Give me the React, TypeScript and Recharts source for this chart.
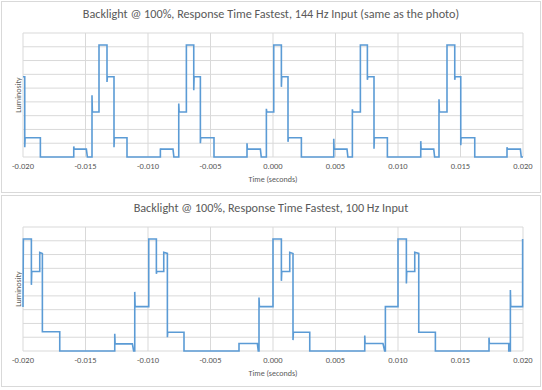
import React from "react";
import { LineChart, Line, XAxis, YAxis, CartesianGrid } from "recharts";

// time ticks shared by both charts
const TIME_TICKS = [-0.02, -0.015, -0.01, -0.005, 0, 0.005, 0.01, 0.015, 0.02];
// luminosity grid levels (axis is unlabeled)
const LUM_TICKS = [0, 1, 2, 3, 4, 5, 6, 7, 8, 9];

// [time (s), luminosity]
const WAVE_144: [number, number][] = [
  [-0.02, 5.82], [-0.01986, 5.82], [-0.01986, 0.71], [-0.01983, 1.4],
  [-0.01861, 1.4], [-0.01861, 0],
  [-0.01594, 0], [-0.01594, 0.77], [-0.01591, 0.57], [-0.01493, 0.57], [-0.01485, 0],
  [-0.01448, 0], [-0.01448, 4.48], [-0.01445, 3.27], [-0.01392, 3.27], [-0.01392, 8.13],
  [-0.01328, 8.13], [-0.01328, 5.45], [-0.01325, 5.82], [-0.01272, 5.82],
  [-0.01272, 0.71], [-0.01269, 1.4], [-0.01168, 1.4], [-0.01168, 0],
  [-0.00901, 0], [-0.00901, 0.62], [-0.00898, 0.57], [-0.008, 0.57], [-0.00793, 0],
  [-0.00754, 0], [-0.00754, 3.88], [-0.00751, 3.27], [-0.00693, 3.27], [-0.00693, 8.13],
  [-0.00634, 8.13], [-0.00634, 4.85], [-0.00631, 5.82], [-0.00581, 5.82],
  [-0.00581, 1.0], [-0.00578, 1.4], [-0.00472, 1.4], [-0.00472, 0],
  [-0.00208, 0], [-0.00208, 1.0], [-0.00205, 0.57], [-0.00101, 0.57], [-0.00094, 0],
  [-0.00053, 0], [-0.00053, 3.5], [-0.0005, 3.27], [0.00006, 3.27], [0.00006, 8.13],
  [0.00067, 8.13], [0.00067, 5.09], [0.0007, 5.82], [0.0012, 5.82],
  [0.0012, 1.1], [0.00123, 1.4], [0.00227, 1.4], [0.00227, 0],
  [0.00486, 0], [0.00486, 1.33], [0.00489, 0.57], [0.00592, 0.57], [0.00599, 0],
  [0.00635, 0], [0.00635, 3.46], [0.00638, 3.27], [0.00699, 3.27], [0.00699, 8.13],
  [0.00755, 8.13], [0.00755, 5.6], [0.00758, 5.82], [0.00808, 5.82],
  [0.00808, 0.6], [0.00811, 1.4], [0.00915, 1.4], [0.00915, 0],
  [0.01182, 0], [0.01182, 1.15], [0.01185, 0.57], [0.01286, 0.57], [0.01293, 0],
  [0.01328, 0], [0.01328, 4.19], [0.01331, 3.27], [0.01392, 3.27], [0.01392, 8.13],
  [0.01454, 8.13], [0.01454, 5.6], [0.01457, 5.82], [0.01502, 5.82],
  [0.01502, 0.85], [0.01505, 1.4], [0.01614, 1.4], [0.01614, 0],
  [0.01872, 0], [0.01872, 0.71], [0.01875, 0.57], [0.01979, 0.57], [0.01986, 0],
  [0.02, 0],
];

// [time (s), luminosity]
const WAVE_100: [number, number][] = [
  [-0.02, 3.19], [-0.01997, 8.13], [-0.01933, 8.13], [-0.01933, 4.8], [-0.0193, 5.77],
  [-0.01866, 5.77], [-0.01866, 7.16], [-0.01845, 7.08], [-0.01845, 1.4],
  [-0.01706, 1.4], [-0.01706, 0],
  [-0.01266, 0], [-0.01266, 1.25], [-0.01263, 0.52], [-0.01125, 0.52], [-0.01115, 0],
  [-0.01106, 0], [-0.01106, 4.29], [-0.01103, 3.22], [-0.00994, 3.22], [-0.00994, 8.13],
  [-0.00933, 8.13], [-0.00933, 5.6], [-0.0093, 5.77], [-0.00874, 5.77],
  [-0.00874, 7.16], [-0.00845, 7.08], [-0.00845, 1.0], [-0.00842, 1.36],
  [-0.00712, 1.36], [-0.00712, 0],
  [-0.00272, 0], [-0.00272, 0.54], [-0.00125, 0.54], [-0.00118, 0],
  [-0.00112, 0], [-0.00112, 3.88], [-0.00109, 3.22], [0, 3.22], [0, 8.13],
  [0.00067, 8.13], [0.00067, 5.09], [0.0007, 5.77], [0.00134, 5.77],
  [0.00134, 7.16], [0.0016, 7.08], [0.0016, 0.79], [0.00163, 1.36],
  [0.00294, 1.36], [0.00294, 0],
  [0.00734, 0], [0.00734, 1.13], [0.00737, 0.54], [0.0088, 0.54], [0.00893, 0],
  [0.00899, 0], [0.00899, 3.22], [0.01, 3.22], [0.01, 8.13],
  [0.01067, 8.13], [0.01067, 4.9], [0.0107, 5.77], [0.01134, 5.77],
  [0.01134, 7.16], [0.01166, 7.08], [0.01166, 1.36], [0.01299, 1.36], [0.01299, 0],
  [0.01728, 0], [0.01728, 0.97], [0.01731, 0.54], [0.01886, 0.54], [0.01886, 0],
  [0.01899, 0], [0.01899, 4.43], [0.01902, 3.22], [0.01997, 3.22], [0.01997, 8.13],
];

const TITLE_144 = "Backlight @ 100%, Response Time Fastest, 144 Hz Input (same as the photo)";
const TITLE_100 = "Backlight @ 100%, Response Time Fastest, 100 Hz Input";

const FONT = "Carlito, Lato, sans-serif";
const GREY = "#595959";

function Panel({ top, title, wave }: { top: number; title: string; wave: [number, number][] }) {
  const data = wave.map(([t, v]) => ({ t, v }));
  return (
    <div style={{ position: "absolute", left: 0, top, width: 542, height: 195, fontFamily: FONT }}>
      <div style={{
        position: "absolute", left: 1, top: 1, width: 538, height: 190,
        border: "1px solid #d9d9d9", background: "#fff",
      }} />
      <div style={{
        position: "absolute", left: 0, top: 6, width: 542, textAlign: "center",
        fontSize: 12.2, color: GREY, whiteSpace: "nowrap",
      }}>{title}</div>
      <div style={{
        position: "absolute", left: 18, top: 95, fontSize: 8, color: GREY,
        transform: "translate(-50%, -50%) rotate(-90deg)", whiteSpace: "nowrap",
      }}>Luminosity</div>
      <div style={{
        position: "absolute", left: 23, top: 174, width: 500, textAlign: "center",
        fontSize: 8, color: GREY,
      }}>Time (seconds)</div>
      <div style={{ position: "absolute", left: 0, top: 0 }}>
        <LineChart width={542} height={195} data={data}
          margin={{ top: 33, right: 19, bottom: 18, left: 23 }}>
          <CartesianGrid stroke="#d9d9d9" horizontalValues={LUM_TICKS} verticalValues={TIME_TICKS} />
          <XAxis dataKey="t" type="number" domain={[-0.02, 0.02]} ticks={TIME_TICKS}
            interval={0} tickFormatter={(v: number) => v.toFixed(3)} height={20}
            axisLine={false} tickLine={false} tickSize={0} tickMargin={6}
            tick={{ fontSize: 8.5, fill: GREY, fontFamily: FONT }} />
          <YAxis type="number" domain={[0, 9]} ticks={LUM_TICKS} interval={0} hide />
          <Line type="linear" dataKey="v" stroke="#5b9bd5" strokeWidth={1.6}
            dot={false} isAnimationActive={false} />
        </LineChart>
      </div>
    </div>
  );
}

export default function App() {
  return (
    <div style={{ position: "absolute", left: 0, top: 0, width: 542, height: 390, background: "#fff" }}>
      <Panel top={0} title={TITLE_144} wave={WAVE_144} />
      <Panel top={194} title={TITLE_100} wave={WAVE_100} />
    </div>
  );
}
